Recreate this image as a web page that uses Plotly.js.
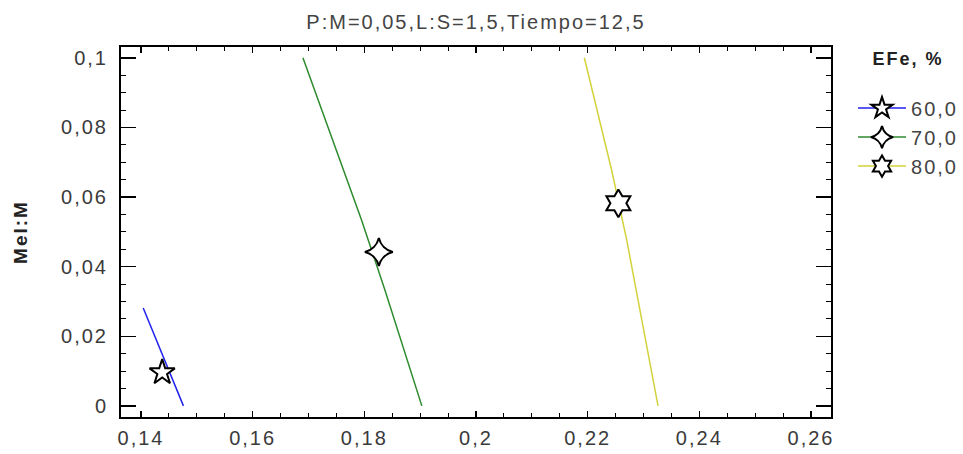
<!DOCTYPE html>
<html>
<head>
<meta charset="utf-8">
<script src="https://cdn.plot.ly/plotly-3.0.1.min.js"></script>
<style>
  html, body { margin: 0; padding: 0; background: #fff; }
  svg text { letter-spacing: 2px; }
</style>
</head>
<body>
<div id="chart" style="width:963px;height:454px;"></div>
<script>
// Contour levels of EFe, %
const levelNames = ["60,0", "70,0", "80,0"];

// Contour line for EFe = 60,0
const line60X = [0.1404, 0.1476];
const line60Y = [0.0281, 0.0];
// Contour line for EFe = 70,0
const line70X = [0.1690, 0.1795, 0.1837, 0.1903];
const line70Y = [0.1, 0.0534, 0.0332, 0.0];
// Contour line for EFe = 80,0
const line80X = [0.2194, 0.2243, 0.2270, 0.2326];
const line80Y = [0.1, 0.0677, 0.0476, 0.0];

// Label markers on each contour
const mark60X = [0.1438], mark60Y = [0.0096];
const mark70X = [0.1826], mark70Y = [0.0442];
const mark80X = [0.2255], mark80Y = [0.0582];

const colors = ["#2222ee", "#2e8b2e", "#d2d23c"];
const symbols = ["star", "star-diamond", "hexagram"];
const msizes = [19, 20, 21];

const lineX = [line60X, line70X, line80X];
const lineY = [line60Y, line70Y, line80Y];
const markX = [mark60X, mark70X, mark80X];
const markY = [mark60Y, mark70Y, mark80Y];

const traces = [];
for (let i = 0; i < 3; i++) {
  traces.push({
    type: "scatter", mode: "lines", x: lineX[i], y: lineY[i],
    line: { color: colors[i], width: 1.5 },
    showlegend: false, legendgroup: "g" + i, hoverinfo: "skip"
  });
}
for (let i = 0; i < 3; i++) {
  traces.push({
    type: "scatter", mode: "lines+markers", x: markX[i], y: markY[i],
    name: levelNames[i], legendgroup: "g" + i,
    line: { color: colors[i], width: 1.5 },
    marker: { symbol: symbols[i], size: msizes[i], color: "white",
              line: { color: "black", width: 2 } }
  });
}

const layout = {
  width: 963, height: 454,
  margin: { l: 121, r: 132, t: 47, b: 37, pad: 0, autoexpand: false },
  paper_bgcolor: "white", plot_bgcolor: "white",
  separators: ",.",
  font: { family: "Liberation Sans, Arial, sans-serif", size: 20, color: "#3a3a3a" },
  title: {
    text: "P:M=0,05,L:S=1,5,Tiempo=12,5",
    font: { size: 20, color: "#444" },
    x: 0.5, xref: "paper", xanchor: "center",
    y: 0.9515, yref: "container", yanchor: "middle"
  },
  xaxis: {
    range: [0.13642, 0.26358], tick0: 0, dtick: 0.02,
    ticks: "inside", ticklen: 6, tickwidth: 1.5, tickcolor: "black",
    showline: true, linecolor: "black", linewidth: 2, mirror: "ticks",
    showgrid: false, zeroline: false, ticklabelstandoff: 2,
    minor: { tick0: 0, dtick: 0.005, ticks: "inside", ticklen: 4, tickwidth: 1, tickcolor: "black", showgrid: false }
  },
  yaxis: {
    range: [-0.0032, 0.1031], tick0: 0, dtick: 0.02,
    ticks: "inside", ticklen: 15, tickwidth: 1.5, tickcolor: "black",
    showline: true, linecolor: "black", linewidth: 2, mirror: "ticks",
    showgrid: false, zeroline: false, ticklabelstandoff: 7,
    minor: { tick0: 0, dtick: 0.005, ticks: "inside", ticklen: 5, tickwidth: 1, tickcolor: "black", showgrid: false },
    title: { text: "Mel:M", font: { size: 19, weight: "bold", color: "#222" }, standoff: 28 }
  },
  legend: {
    x: 1.031, xanchor: "left", y: 1.014, yanchor: "top",
    bgcolor: "rgba(0,0,0,0)",
    font: { size: 20, color: "#444" },
    title: { text: "EFe, %<br> ", font: { size: 18, weight: "bold", color: "#222" }, side: "top center" },
    tracegroupgap: 0, itemwidth: 48
  },
  showlegend: true
};

Plotly.newPlot("chart", traces, layout, { displayModeBar: false, staticPlot: true });
</script>
</body>
</html>
